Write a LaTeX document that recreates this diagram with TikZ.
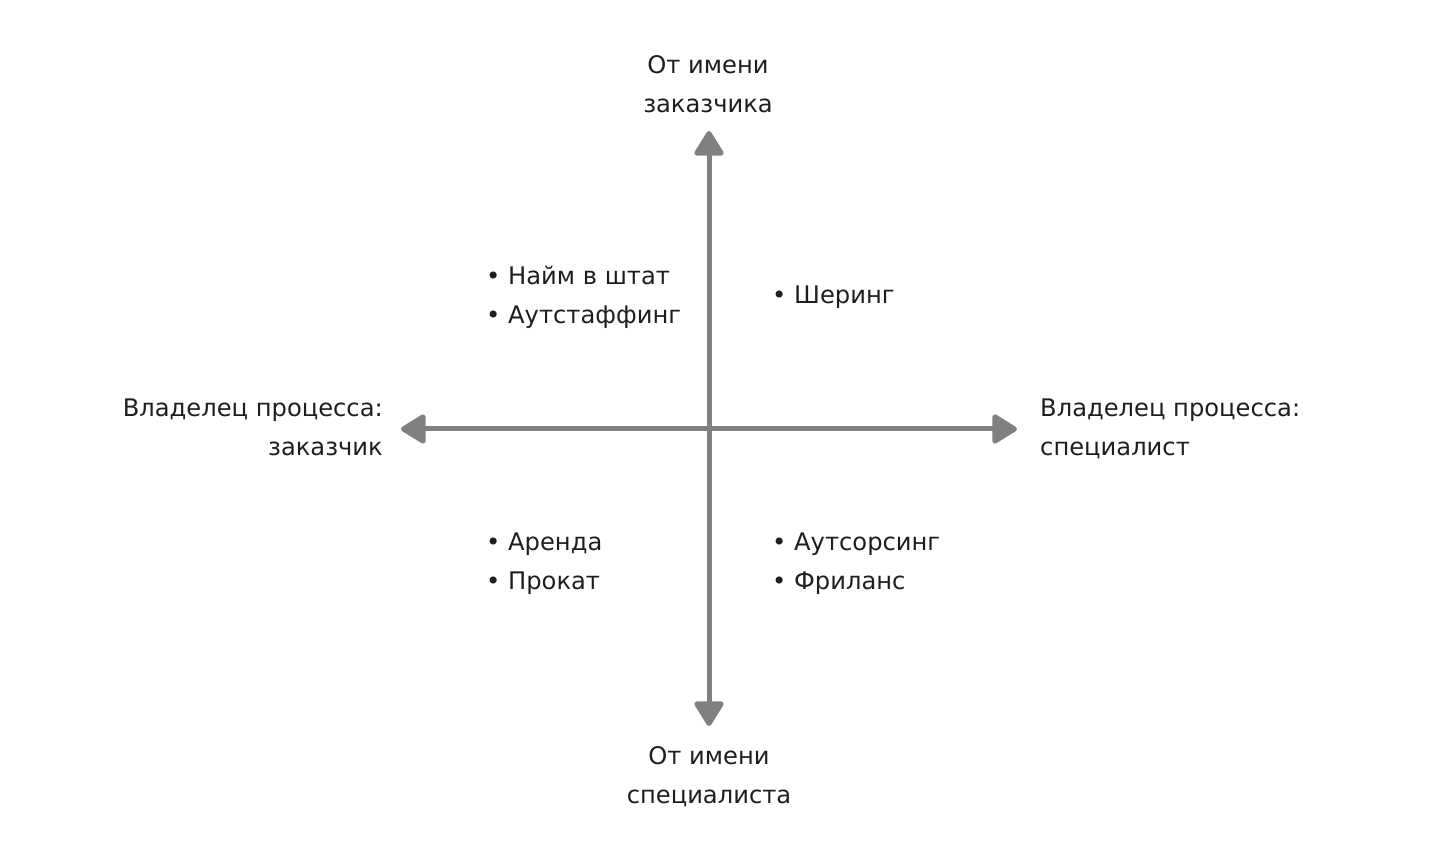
\documentclass[tikz,border=0pt]{standalone}
\usepackage{fontspec}
\setmainfont{DejaVu Sans}
\usetikzlibrary{arrows.meta}
\definecolor{axisgray}{HTML}{808080}
\definecolor{txt}{HTML}{1E1E1E}
\begin{document}
\begin{tikzpicture}[x=1pt,y=-1pt,
  axis/.style={draw=axisgray, line width=5pt, -{Triangle[round,length=27pt,width=32pt]}},
  lbl/.style={inner sep=0pt, text=txt, font=\fontsize{24.2}{39}\selectfont},
  item/.style={lbl, anchor=base west, align=left}]
\useasboundingbox (0,0) rectangle (1452,858);
\coordinate (O) at (709,429);
\coordinate (T) at (709,131);
\coordinate (B) at (709,726);
\coordinate (L) at (401,429);
\coordinate (R) at (1017,429);
\draw[axis] (O) -- (T);
\draw[axis] (O) -- (B);
\draw[axis] (O) -- (L);
\draw[axis] (O) -- (R);
\node[lbl, align=center, anchor=base] (top) at (708,113) {От имени\\заказчика};
\node[lbl, align=center, anchor=base] (bot) at (709,803) {От имени\\специалиста};
\node[lbl, align=right, anchor=base east] (left) at (383,456) {Владелец процесса:\\заказчик};
\node[lbl, align=left, anchor=base west] (right) at (1040,456) {Владелец процесса:\\специалист};
\node[item] (q1) at (486,324) {• Найм в штат\\• Аутстаффинг};
\node[item] (q2) at (772,304) {• Шеринг};
\node[item] (q3) at (486,589) {• Аренда\\• Прокат};
\node[item] (q4) at (772,589) {• Аутсорсинг\\• Фриланс};
\end{tikzpicture}
\end{document}
